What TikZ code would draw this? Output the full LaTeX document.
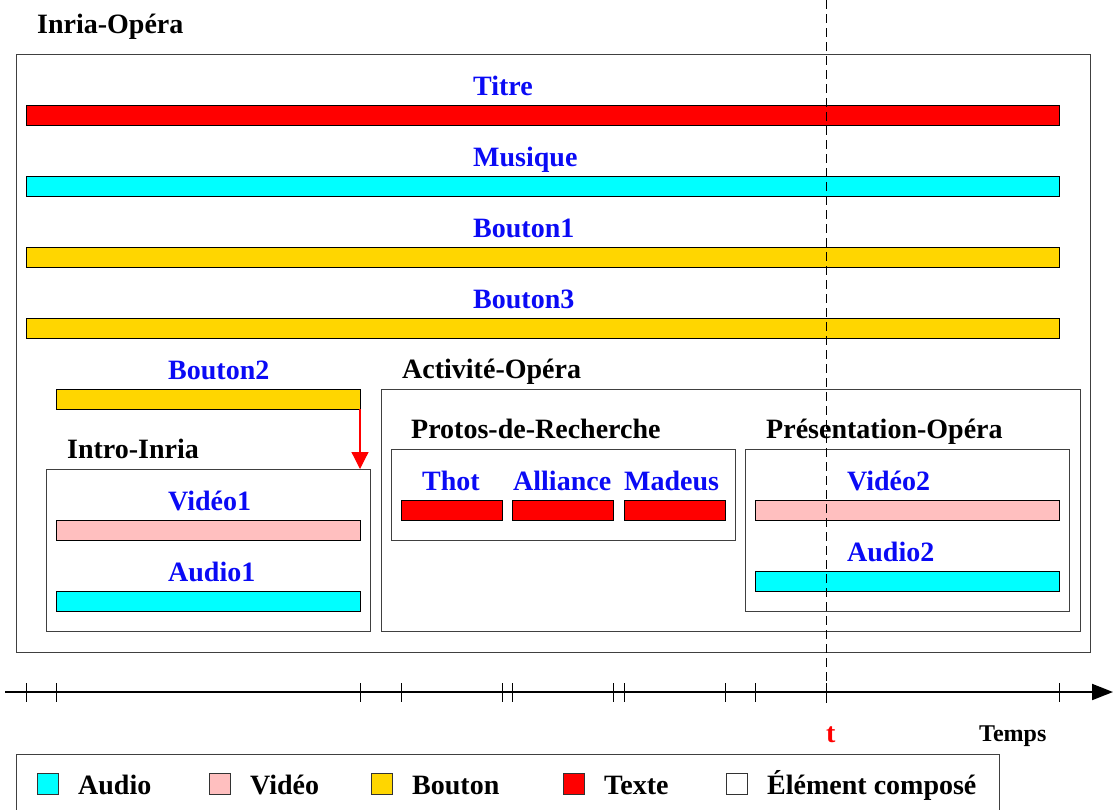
\documentclass[tikz,border=0pt]{standalone}
\usepackage{fontspec}
\setmainfont{Liberation Serif}
\usetikzlibrary{arrows.meta,positioning}

\definecolor{texteRouge}{RGB}{255,0,0}
\definecolor{audioCyan}{RGB}{0,255,255}
\definecolor{videoRose}{RGB}{255,191,191}
\definecolor{boutonJaune}{RGB}{255,214,0}
\definecolor{nomBleu}{RGB}{10,10,245}

\tikzset{
    media/.style={draw=black,line width=0.8pt,inner sep=0pt,outer sep=0pt,
        anchor=north west,minimum height=20pt},
    compose/.style={draw=black!75,line width=1pt,inner sep=0pt,outer sep=0pt,
        anchor=north west},
    nomMedia/.style={text=nomBleu,font=\fontsize{28}{30}\selectfont\bfseries,
        inner sep=0pt,anchor=base west},
    nomCompose/.style={font=\fontsize{28}{30}\selectfont\bfseries,
        inner sep=0pt,anchor=base west},
    pastille/.style={draw=black!80,line width=0.8pt,inner sep=0pt,
        anchor=north west,minimum width=21pt,minimum height=21pt},
    graduation/.style={line width=0.8pt},
}

\begin{document}
\begin{tikzpicture}[x=1pt,y=-1pt]
    \useasboundingbox (0,0) rectangle (1113,809);
    \clip (0,0) rectangle (1113,809);

    % elements composes
    \node[compose,minimum width=1074pt,minimum height=598pt] (inria) at (16,54) {};
    \node[nomCompose] (inriaNom) at (37,33) {Inria-Opéra};
    \node[compose,minimum width=324pt,minimum height=162pt] (intro) at (46,469) {};
    \node[nomCompose] (introNom) at (67,458) {Intro-Inria};
    \node[compose,minimum width=699pt,minimum height=242pt] (activite) at (381,389) {};
    \node[nomCompose] (activiteNom) at (402,378) {Activité-Opéra};
    \node[compose,minimum width=344pt,minimum height=91pt] (protos) at (391,449) {};
    \node[nomCompose] (protosNom) at (411,438) {Protos-de-Recherche};
    \node[compose,minimum width=324pt,minimum height=162pt] (presentation) at (745,449) {};
    \node[nomCompose] (presentationNom) at (766,438) {Présentation-Opéra};

    % medias
    \node[media,fill=texteRouge,minimum width=1033pt] (titre) at (26,105) {};
    \node[nomMedia] (titreNom) at (473,95) {Titre};
    \node[media,fill=audioCyan,minimum width=1033pt] (musique) at (26,176) {};
    \node[nomMedia] (musiqueNom) at (473,166) {Musique};
    \node[media,fill=boutonJaune,minimum width=1033pt] (bouton1) at (26,247) {};
    \node[nomMedia] (bouton1Nom) at (473,237) {Bouton1};
    \node[media,fill=boutonJaune,minimum width=1033pt] (bouton3) at (26,318) {};
    \node[nomMedia] (bouton3Nom) at (473,308) {Bouton3};
    \node[media,fill=boutonJaune,minimum width=304pt] (bouton2) at (56,389) {};
    \node[nomMedia] (bouton2Nom) at (168,379) {Bouton2};

    \node[media,fill=videoRose,minimum width=304pt] (video1) at (56,520) {};
    \node[nomMedia] (video1Nom) at (168,510) {Vidéo1};
    \node[media,fill=audioCyan,minimum width=304pt] (audio1) at (56,591) {};
    \node[nomMedia] (audio1Nom) at (168,581) {Audio1};

    \node[media,fill=texteRouge,minimum width=101pt] (thot) at (401,500) {};
    \node[nomMedia] (thotNom) at (422,490) {Thot};
    \node[media,fill=texteRouge,minimum width=101pt] (alliance) at (512,500) {};
    \node[nomMedia] (allianceNom) at (513,490) {Alliance};
    \node[media,fill=texteRouge,minimum width=101pt] (madeus) at (624,500) {};
    \node[nomMedia] (madeusNom) at (624,490) {Madeus};

    \node[media,fill=videoRose,minimum width=304pt] (video2) at (755,500) {};
    \node[nomMedia] (video2Nom) at (847,490) {Vidéo2};
    \node[media,fill=audioCyan,minimum width=304pt] (audio2) at (755,571) {};
    \node[nomMedia] (audio2Nom) at (847,561) {Audio2};

    % lien bouton2 -> intro
    \draw[texteRouge,line width=1.2pt,-{Triangle[length=17pt,width=17pt]}]
        (bouton2.south east) -- (bouton2.south east |- intro.north);

    % axe du temps
    \draw[line width=0.9pt,dash pattern=on 9pt off 5pt] (826,0) -- (826,703);
    \coordinate (axeDebut) at (5,692);
    \coordinate (axeFin) at (1113,692);
    \draw[line width=2pt,-{Triangle[length=21pt,width=16pt]}] (axeDebut) -- (axeFin);
    \foreach \tx in {26,56,360,401,502,512,613,624,725,755,826,1059}
        \draw[graduation] (\tx,683) -- (\tx,702);
    \node[nomCompose,text=texteRouge] (instant) at (826,742) {t};
    \node[nomCompose,font=\fontsize{24}{26}\selectfont\bfseries] (temps) at (979,741) {Temps};

    % legende
    \draw[draw=black!75,line width=1pt] (16,820) -- (16,754) -- (999,754) -- (999,820);
    \node[pastille,fill=audioCyan] (legAudio) at (37,773) {};
    \node[nomCompose] (legAudioNom) at (78,794) {Audio};
    \node[pastille,fill=videoRose] (legVideo) at (209,773) {};
    \node[nomCompose] (legVideoNom) at (250,794) {Vidéo};
    \node[pastille,fill=boutonJaune] (legBouton) at (371,773) {};
    \node[nomCompose] (legBoutonNom) at (412,794) {Bouton};
    \node[pastille,fill=texteRouge] (legTexte) at (563,773) {};
    \node[nomCompose] (legTexteNom) at (604,794) {Texte};
    \node[pastille,fill=white] (legCompose) at (726,773) {};
    \node[nomCompose] (legComposeNom) at (767,794) {Élément composé};
\end{tikzpicture}
\end{document}
